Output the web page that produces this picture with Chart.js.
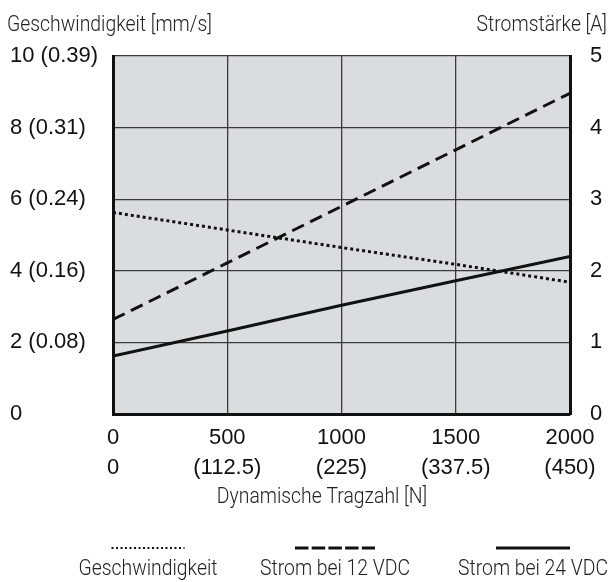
<!DOCTYPE html>
<html>
<head>
<meta charset="utf-8">
<script src="https://cdn.jsdelivr.net/npm/chart.js@4.4.1/dist/chart.umd.min.js"></script>
<style>
  html, body { margin: 0; padding: 0; background: #fff; }
</style>
</head>
<body>
<canvas id="tragzahlChart" width="610" height="582"></canvas>
<script>
// values
const loadValues = [0, 500, 1000, 1500, 2000];               // Dynamische Tragzahl [N]
const loadLabelsLbf = ['0', '(112.5)', '(225)', '(337.5)', '(450)'];
const speedValues = [5.63, 5.14, 4.65, 4.18, 3.68];           // mm/s, left axis
const current12Values = [1.32, 2.11, 2.90, 3.69, 4.48];       // A, right axis
const current24Values = [0.81, 1.16, 1.52, 1.86, 2.20];       // A, right axis
const speedTickLabels = ['0', '2 (0.08)', '4 (0.16)', '6 (0.24)', '8 (0.31)', '10 (0.39)'];
const currentTickLabels = ['0', '1', '2', '3', '4', '5'];
const seriesNames = ['Geschwindigkeit', 'Strom bei 12 VDC', 'Strom bei 24 VDC'];

const tickFont = { family: '"Liberation Sans", Arial, sans-serif', size: 22 };
const textFont = '300 22px Roboto, "Liberation Sans", sans-serif';
const ink = '#111';

function toPoints(values) {
  return loadValues.map((x, i) => ({ x: x, y: values[i] }));
}

// the reference uses a condensed face, so squeeze the text a bit
function drawNarrowText(ctx, text, x, y, align) {
  ctx.save();
  ctx.translate(x, y);
  ctx.scale(0.88, 1);
  ctx.textAlign = align;
  ctx.fillText(text, 0, 0);
  ctx.restore();
}

// gray plot background, axis titles and the legend below the chart
const decorPlugin = {
  id: 'decor',
  beforeDraw(chart) {
    const { ctx, chartArea } = chart;
    ctx.save();
    ctx.fillStyle = '#dadddf';
    ctx.fillRect(chartArea.left, chartArea.top, chartArea.right - chartArea.left, chartArea.bottom - chartArea.top);
    ctx.restore();
  },
  afterDraw(chart) {
    const { ctx } = chart;
    ctx.save();
    ctx.fillStyle = '#222';
    ctx.font = textFont;
    ctx.textBaseline = 'alphabetic';

    drawNarrowText(ctx, 'Geschwindigkeit [mm/s]', 7, 31, 'left');
    drawNarrowText(ctx, 'Stromstärke [A]', 607, 31, 'right');
    drawNarrowText(ctx, 'Dynamische Tragzahl [N]', 322, 503, 'center');

    // legend: line sample above, name below
    const legendSpots = [
      { cx: 148, w: 73, dash: [2, 2.5], width: 2 },
      { cx: 335, w: 80, dash: [13.5, 3.2], width: 3 },
      { cx: 533, w: 74, dash: [], width: 3 }
    ];
    chart.data.datasets.forEach((ds, i) => {
      const spot = legendSpots[i];
      ctx.beginPath();
      ctx.strokeStyle = ds.borderColor;
      ctx.lineWidth = spot.width;
      ctx.setLineDash(spot.dash);
      ctx.moveTo(spot.cx - spot.w / 2, 548);
      ctx.lineTo(spot.cx + spot.w / 2, 548);
      ctx.stroke();
      ctx.setLineDash([]);
      drawNarrowText(ctx, ds.label, spot.cx, 575, 'center');
    });
    ctx.restore();
  }
};

const canvas = document.getElementById('tragzahlChart');
new Chart(canvas, {
  type: 'line',
  data: {
    datasets: [
      {
        label: seriesNames[0],
        data: toPoints(speedValues),
        yAxisID: 'y',
        borderColor: ink,
        borderWidth: 3,
        borderDash: [3, 3],
        pointRadius: 0,
        tension: 0
      },
      {
        label: seriesNames[1],
        data: toPoints(current12Values),
        yAxisID: 'y1',
        borderColor: ink,
        borderWidth: 3,
        borderDash: [13, 7],
        pointRadius: 0,
        tension: 0
      },
      {
        label: seriesNames[2],
        data: toPoints(current24Values),
        yAxisID: 'y1',
        borderColor: ink,
        borderWidth: 3,
        pointRadius: 0,
        tension: 0
      }
    ]
  },
  options: {
    responsive: false,
    animation: false,
    layout: { padding: { top: 56, left: 10, right: 0, bottom: 0 } },
    plugins: {
      legend: { display: false },
      tooltip: { enabled: false }
    },
    scales: {
      x: {
        type: 'linear',
        position: 'bottom',
        min: 0,
        max: 2000,
        afterFit: (scale) => { scale.height = 168; },
        ticks: {
          stepSize: 500,
          autoSkip: false,
          maxRotation: 0,
          padding: 9,
          color: ink,
          font: { ...tickFont, lineHeight: 1.36 },
          callback: (value) => [String(value), loadLabelsLbf[loadValues.indexOf(value)]]
        },
        grid: { color: '#3a3a3a', lineWidth: 1.3, drawTicks: false },
        border: { color: ink, width: 3 }
      },
      y: {
        position: 'left',
        min: 0,
        max: 10,
        afterFit: (scale) => { scale.width = 103; },
        ticks: {
          stepSize: 2,
          crossAlign: 'far',
          color: ink,
          font: tickFont,
          callback: (value) => speedTickLabels[value / 2]
        },
        grid: { color: '#3a3a3a', lineWidth: 1.3, drawTicks: false },
        border: { color: ink, width: 3 }
      },
      y1: {
        position: 'right',
        min: 0,
        max: 5,
        afterFit: (scale) => { scale.width = 40; },
        ticks: {
          stepSize: 1,
          padding: 20,
          color: ink,
          font: tickFont,
          callback: (value) => currentTickLabels[value]
        },
        grid: { display: false, drawTicks: false },
        border: { color: ink, width: 3 }
      }
    }
  },
  plugins: [decorPlugin]
});
</script>
</body>
</html>
